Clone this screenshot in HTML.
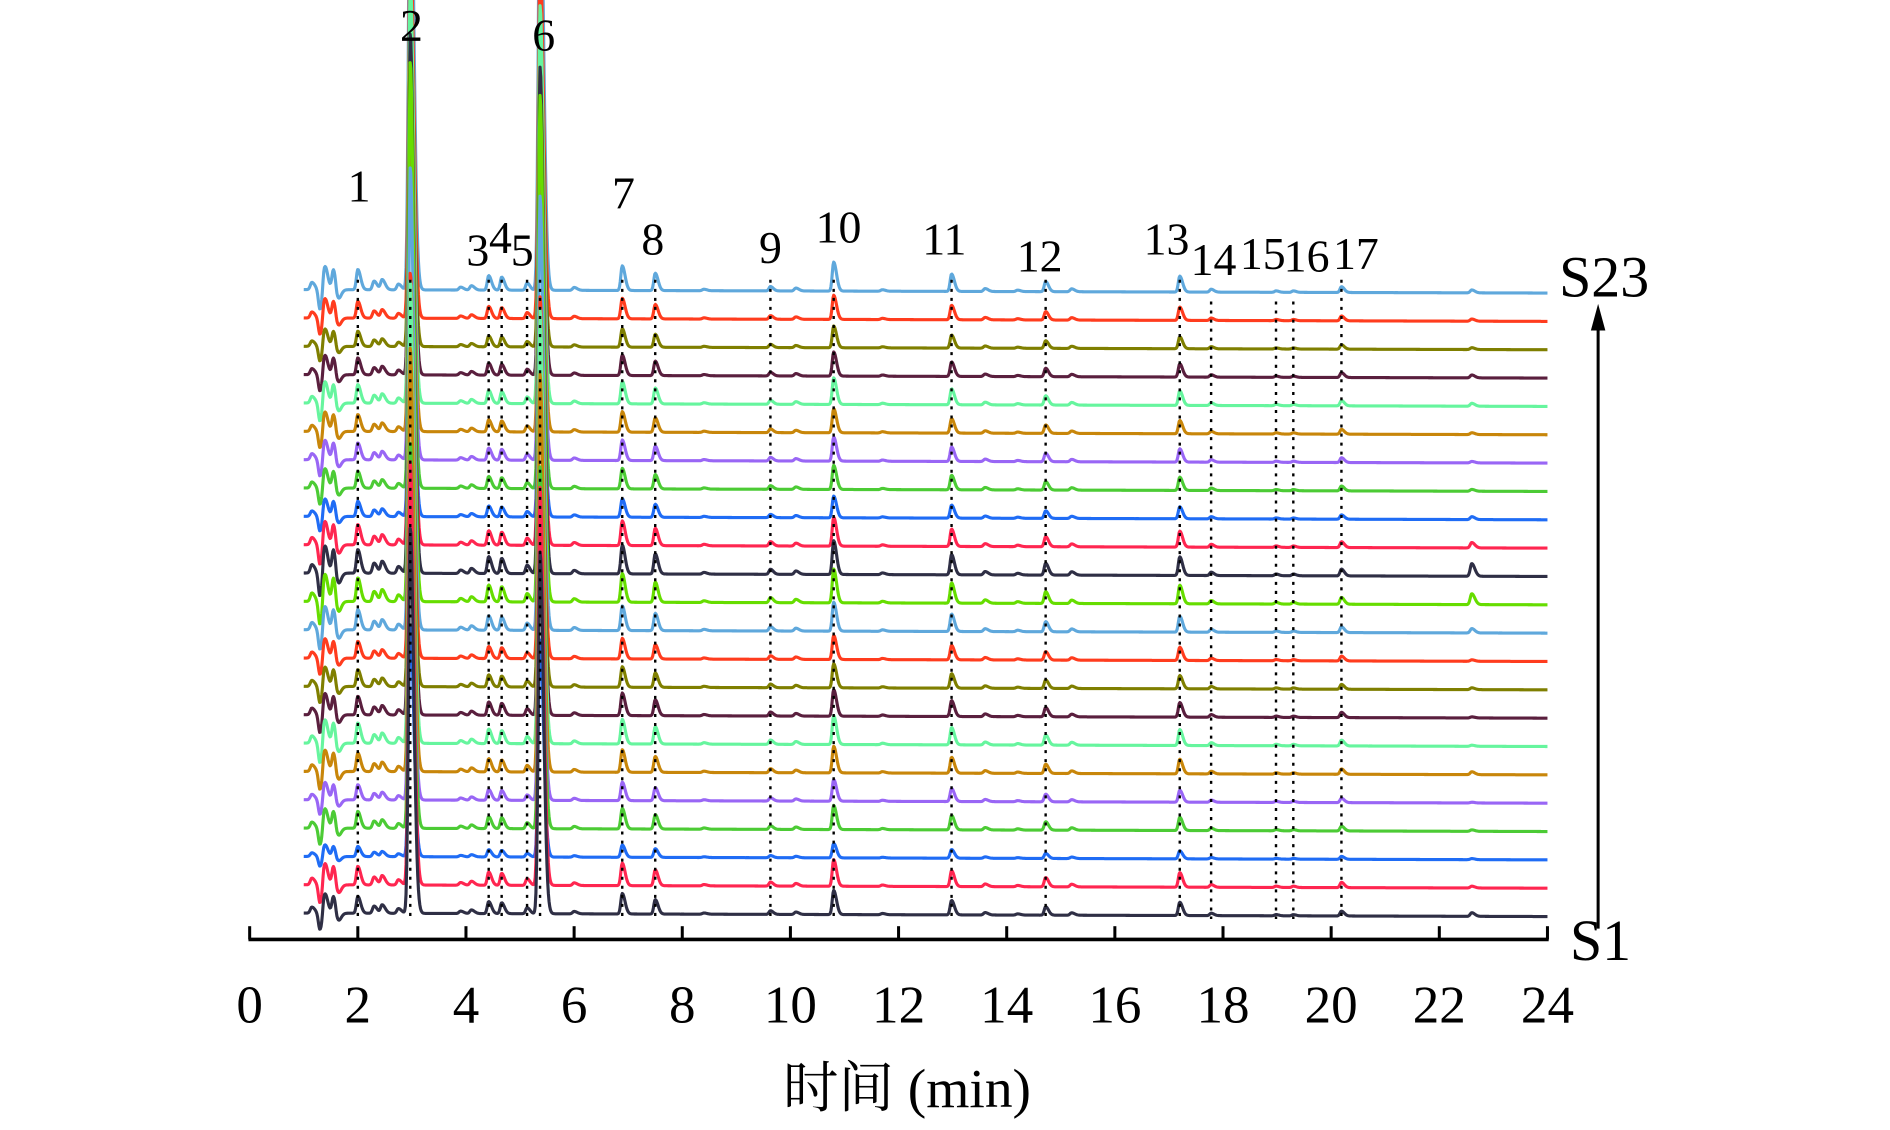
<!DOCTYPE html>
<html><head><meta charset="utf-8">
<style>
html,body{margin:0;padding:0;background:#fff;}
svg{display:block;}
text{font-family:"Liberation Serif","Noto Serif CJK SC",serif;fill:#000;}
</style></head>
<body>
<svg id="chart" width="1890" height="1130" viewBox="0 0 1567 937" preserveAspectRatio="none" xmlns="http://www.w3.org/2000/svg">
<g id="traces"></g>
<g id="refs"></g>
<g id="xaxis"></g>
<g id="labels"></g>
<text x="752" y="918" font-size="46" text-anchor="middle">时间 (min)</text>
<text x="1330" y="246" font-size="48" text-anchor="middle">S23</text>
<text x="1327" y="796" font-size="48" text-anchor="middle">S1</text>
<g>
<line x1="1325" y1="770" x2="1325" y2="268" stroke="#000" stroke-width="2.5"/>
<polygon points="1325,252 1319,274 1331,274" fill="#000"/>
</g>
</svg>
<script>
// ---- data ----
const peakTimes = [2.0, 2.97, 4.42, 4.66, 5.13, 5.37, 6.89, 7.5, 9.63, 10.8, 12.98, 14.72, 17.2, 17.78, 18.98, 19.3, 20.19];
const peakHeights = [14, 320, 10, 9, 5, 300, 17, 12, 3, 20, 12, 7, 11, 2, 1, 1, 4];
const peakLabels = ["1","2","3","4","5","6","7","8","9","10","11","12","13","14","15","16","17"];
const minorTimes = [1.15, 1.3, 1.38, 1.55, 1.62, 2.3, 2.45, 2.75, 3.9, 4.1, 6.0, 8.4, 10.1, 11.7, 13.6, 14.2, 15.2, 22.6];
const minorHeights = [5, -14, 20, 14, -10, 6, 7, 4, 2, 3, 2, 1, 2, 1, 2, 1, 2, 3];
// per sample S1..S23 scaling
const sampleScale = [1.0, 1.1, 0.6, 1.0, 0.9, 1.1, 1.2, 1.1, 1.0, 1.0, 1.2, 1.4, 1.4, 1.2, 0.9, 1.0, 1.0, 1.0, 1.1, 1.0, 0.9, 1.0, 1.2];
const peak22Scale = [1, 0.5, 0.3, 0.4, 0.2, 0.8, 0.3, 0.3, 0.5, 0.4, 1.2, 3.0, 3.5, 1.5, 0.8, 0.5, 0.4, 0.5, 0.8, 0.8, 0.5, 0.6, 0.8];
const sampleColors = ["#2f2f45","#ff2650","#1f6cf5","#4ccb35","#9966f5","#c8860a","#66f59e","#5a1f3e","#7f7f00","#ff3c1e","#5fa8dc","#66dd00","#2f2f45","#ff2650","#1f6cf5","#4ccb35","#9966f5","#c8860a","#66f59e","#5a1f3e","#7f7f00","#ff3c1e","#5fa8dc"];
const xTicks = [0,2,4,6,8,10,12,14,16,18,20,22,24];

// ---- axis functions ----
const X0 = 207, X1 = 1283;
function xs(t){ return X0 + (X1 - X0) * t / 24; }
function baseY(i, t){ return 757 - i * 23.5 + 3 * t / 24; }

const NS = "http://www.w3.org/2000/svg";
function gpk(t, c, w){ const d = t - c; const s = d < 0 ? w : w * 2.0; return Math.exp(-d*d/(2*s*s)); }

const tracesG = document.getElementById('traces');
for (let i = sampleColors.length - 1; i >= 0; i--) {
  const sc = sampleScale[i];
  let d = "";
  for (let k = 0; k <= 1800; k++) {
    const t = 1.0 + k * 23.0 / 1800;
    let v = 0;
    for (let p = 0; p < peakTimes.length; p++) {
      const w = (p === 1 || p === 5) ? 0.032 : 0.026;
      v += peakHeights[p] * sc * gpk(t, peakTimes[p], w);
    }
    for (let m = 0; m < minorTimes.length; m++) {
      const f = (m === minorTimes.length - 1) ? peak22Scale[i] : sc;
      v += minorHeights[m] * f * gpk(t, minorTimes[m], 0.028);
    }
    d += (k ? "L" : "M") + xs(t).toFixed(2) + "," + (baseY(i, t) - v).toFixed(2);
  }
  const path = document.createElementNS(NS, 'path');
  path.setAttribute('d', d);
  path.setAttribute('fill', 'none');
  path.setAttribute('stroke', sampleColors[i]);
  path.setAttribute('stroke-width', '2.6');
  path.setAttribute('stroke-linejoin', 'round');
  
  
  tracesG.appendChild(path);
}

const refsG = document.getElementById('refs');
const labelsG = document.getElementById('labels');
const labelY = [167, 34, 220, 210, 220, 42, 173, 211, 218, 201, 211, 225, 211, 228, 223, 225, 223];
const labelDx = [1, 1, -9, -1, -4, 3, 1, -2, 0, 4, -6, -5, -11, 2, -11, 11, 12];
for (let p = 0; p < peakTimes.length; p++) {
  const x = xs(peakTimes[p]);
  const top = p >= 13 && p <= 15 ? 250 : 232;
  const ln = document.createElementNS(NS, 'line');
  ln.setAttribute('x1', x); ln.setAttribute('x2', x);
  ln.setAttribute('y1', top); ln.setAttribute('y2', 762);
  ln.setAttribute('stroke', '#000');
  ln.setAttribute('stroke-width', '2');
  ln.setAttribute('stroke-dasharray', '2.5 5');
  
  
  refsG.appendChild(ln);
  const tx = document.createElementNS(NS, 'text');
  tx.setAttribute('x', x + labelDx[p]);
  tx.setAttribute('y', labelY[p]);
  tx.setAttribute('font-size', '38');
  tx.setAttribute('text-anchor', 'middle');
  tx.textContent = peakLabels[p];
  
  
  labelsG.appendChild(tx);
}

const ax = document.getElementById('xaxis');
const axl = document.createElementNS(NS, 'line');
axl.setAttribute('x1', X0 - 1); axl.setAttribute('x2', X1 + 1);
axl.setAttribute('y1', 779); axl.setAttribute('y2', 779);
axl.setAttribute('stroke', '#000'); axl.setAttribute('stroke-width', '3');


ax.appendChild(axl);
for (const t of xTicks) {
  const x = xs(t);
  const tk = document.createElementNS(NS, 'line');
  tk.setAttribute('x1', x); tk.setAttribute('x2', x);
  tk.setAttribute('y1', 768); tk.setAttribute('y2', 779);
  tk.setAttribute('stroke', '#000'); tk.setAttribute('stroke-width', '2.5');
  
  
  ax.appendChild(tk);
  const lb = document.createElementNS(NS, 'text');
  lb.setAttribute('x', x); lb.setAttribute('y', 848);
  lb.setAttribute('font-size', '44');
  lb.setAttribute('text-anchor', 'middle');
  lb.textContent = t;
  
  
  ax.appendChild(lb);
}
</script>
</body></html>
